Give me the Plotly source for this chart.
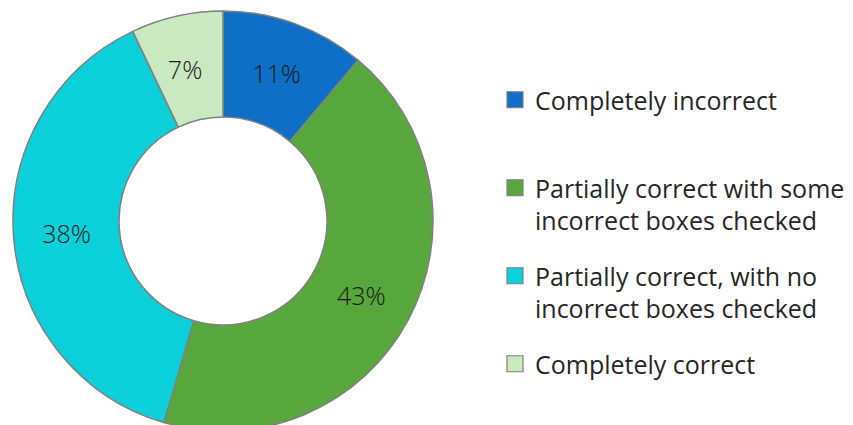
import plotly.graph_objects as go

categories = [
    "Completely incorrect",
    "Partially correct with some<br>incorrect boxes checked",
    "Partially correct, with no<br>incorrect boxes checked",
    "Completely correct",
]
values = [11, 43, 38, 7]
colors = ["#0F6FC6", "#58A73C", "#0BD0D9", "#CBE9C1"]
legend_labels = [
    "Completely incorrect<br> ",
    "Partially correct with some<br>incorrect boxes checked",
    "Partially correct, with no<br>incorrect boxes checked",
    "Completely correct",
]
# the narrow last slice gets a blank first line so its label sits mid-ring
text_templates = ["%{value}%", "%{value}%", "%{value}%", " <br>%{value}%"]

W, H = 853, 440
cx, cy, R = 223, 221, 210

fig = go.Figure()
fig.add_trace(go.Pie(
    labels=categories,
    values=values,
    sort=False,
    direction="clockwise",
    rotation=0,
    hole=0.495,
    marker=dict(colors=colors, line=dict(color="#808080", width=1.5)),
    texttemplate=text_templates,
    textposition="inside",
    insidetextorientation="horizontal",
    textfont=dict(family="Open Sans", size=25, color="#1a1a1a", weight=300),
    domain=dict(x=[(cx - R) / W, (cx + R) / W], y=[(H - cy - R) / H, (H - cy + R) / H]),
    showlegend=False,
    hoverinfo="label+percent",
))

for lab, col in zip(legend_labels, colors):
    fig.add_trace(go.Scatter(
        x=[None], y=[None], mode="markers", name=lab, legendgroup=lab,
        marker=dict(symbol="square", size=16, color=col, line=dict(color="#808080", width=1.2)),
        showlegend=True,
    ))

fig.update_layout(
    width=W, height=H,
    margin=dict(l=0, r=0, t=0, b=0),
    paper_bgcolor="white", plot_bgcolor="white",
    xaxis=dict(visible=False), yaxis=dict(visible=False),
    legend=dict(
        x=495 / W, y=1 - 77 / H, xanchor="left", yanchor="top",
        font=dict(family="Open Sans", size=25, color="#262626"),
        tracegroupgap=20, valign="top", bgcolor="rgba(0,0,0,0)",
        traceorder="grouped",
    ),
)

fig.write_html(
    "out.html",
    config={"displayModeBar": False},
    post_script="document.body.style.margin='0';document.body.style.overflow='hidden';",
)
